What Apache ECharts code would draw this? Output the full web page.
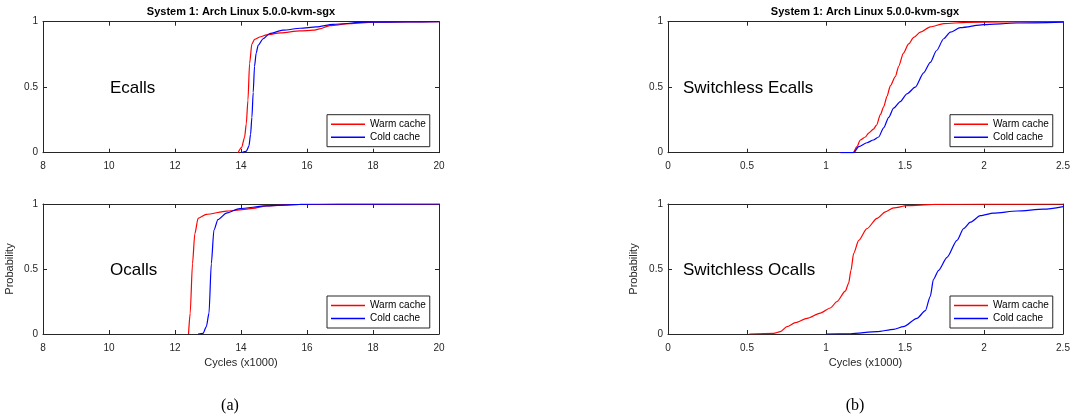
<!DOCTYPE html>
<html>
<head>
<meta charset="utf-8">
<script src="https://cdn.jsdelivr.net/npm/echarts@6/dist/echarts.min.js"></script>
<style>
html,body{margin:0;padding:0;background:#fff;}
#c{width:1073px;height:419px;}
</style>
</head>
<body>
<div id="c"></div>
<script>
// ---- Data ----
const titleText = 'System 1: Arch Linux 5.0.0-kvm-sgx';
const seriesNames = ['Warm cache', 'Cold cache'];
const panelLabels = ['Ecalls', 'Ocalls', 'Switchless Ecalls', 'Switchless Ocalls'];
const yTicks = [0, 0.5, 1];
const leftXTicks = [8, 10, 12, 14, 16, 18, 20];
const rightXTicks = [0, 0.5, 1, 1.5, 2, 2.5];

const ecallsWarm = [[13.91,0],[14.02,0.04],[14.11,0.12],[14.16,0.22],[14.21,0.40],[14.26,0.68],[14.33,0.83],[14.41,0.865],[14.6,0.885],[14.77,0.90],[15.2,0.915],[15.78,0.93],[16.2,0.935],[16.38,0.945],[16.69,0.97],[17.3,0.985],[18,0.996],[19,0.999],[20,1]];
const ecallsCold = [[14.01,0],[14.16,0.01],[14.24,0.05],[14.29,0.14],[14.33,0.27],[14.37,0.46],[14.41,0.66],[14.46,0.76],[14.52,0.82],[14.67,0.87],[14.87,0.91],[15.27,0.935],[15.8,0.95],[16.28,0.96],[16.79,0.98],[17.8,0.996],[19,0.999],[20,1]];
const ocallsWarm = [[12.41,0],[12.46,0.16],[12.53,0.54],[12.6,0.77],[12.70,0.89],[12.95,0.92],[13.56,0.945],[13.96,0.955],[14.36,0.967],[14.77,0.985],[15.78,0.997],[17,0.999],[20,1]];
const ocallsCold = [[12.70,0],[12.85,0.005],[12.95,0.056],[13.03,0.16],[13.1,0.54],[13.18,0.8],[13.3,0.88],[13.56,0.93],[13.96,0.965],[14.77,0.985],[15.78,0.997],[17,0.999],[20,1]];
const swEcallsWarm = [[1.086,0],[1.171,0],[1.196,0.046],[1.217,0.097],[1.249,0.12],[1.27,0.15],[1.30,0.18],[1.32,0.21],[1.344,0.29],[1.365,0.35],[1.386,0.43],[1.407,0.51],[1.439,0.58],[1.46,0.66],[1.49,0.76],[1.523,0.83],[1.555,0.88],[1.597,0.92],[1.66,0.96],[1.745,0.985],[1.89,0.995],[2.1,0.998],[2.5,1]];
const swEcallsCold = [[1.09,0],[1.175,0],[1.207,0.046],[1.259,0.076],[1.30,0.097],[1.333,0.12],[1.365,0.19],[1.397,0.27],[1.428,0.34],[1.47,0.39],[1.513,0.45],[1.565,0.50],[1.618,0.61],[1.66,0.69],[1.70,0.78],[1.745,0.87],[1.787,0.92],[1.85,0.955],[1.998,0.978],[2.209,0.99],[2.5,0.997]];
const swOcallsWarm = [[0.515,0],[0.669,0.005],[0.711,0.018],[0.753,0.056],[0.806,0.087],[0.88,0.12],[0.964,0.16],[1.027,0.20],[1.07,0.25],[1.122,0.33],[1.143,0.39],[1.158,0.49],[1.175,0.62],[1.207,0.72],[1.259,0.81],[1.323,0.89],[1.376,0.94],[1.428,0.97],[1.513,0.987],[1.68,0.997],[2.0,0.999],[2.5,1]];
const swOcallsCold = [[1.0,0],[1.154,0.002],[1.323,0.018],[1.428,0.036],[1.49,0.056],[1.576,0.12],[1.629,0.18],[1.66,0.29],[1.68,0.42],[1.713,0.49],[1.766,0.59],[1.829,0.72],[1.871,0.81],[1.914,0.86],[1.977,0.91],[2.06,0.93],[2.209,0.946],[2.378,0.96],[2.5,0.98]];

const panelData = [
  [ecallsWarm, ecallsCold],
  [ocallsWarm, ocallsCold],
  [swEcallsWarm, swEcallsCold],
  [swOcallsWarm, swOcallsCold]
];

// ---- Layout ----
const axisColor = '#262626';
const font = 'Liberation Sans, Arial, Helvetica, sans-serif';
const grids = [
  {left: 43, top: 21.7, width: 396, height: 131},
  {left: 43, top: 204, width: 396, height: 130},
  {left: 668, top: 21.7, width: 395, height: 131},
  {left: 668, top: 204, width: 395, height: 130}
];
const xRanges = [
  {min: leftXTicks[0], max: leftXTicks[leftXTicks.length-1], interval: leftXTicks[1]-leftXTicks[0]},
  {min: leftXTicks[0], max: leftXTicks[leftXTicks.length-1], interval: leftXTicks[1]-leftXTicks[0]},
  {min: rightXTicks[0], max: rightXTicks[rightXTicks.length-1], interval: rightXTicks[1]-rightXTicks[0]},
  {min: rightXTicks[0], max: rightXTicks[rightXTicks.length-1], interval: rightXTicks[1]-rightXTicks[0]}
];
const colors = ['#ff0000', '#0000ff'];

const xAxis = [], yAxis = [], series = [], legend = [], graphic = [];
grids.forEach((g, i) => {
  const xr = xRanges[i];
  const isBottom = i === 1 || i === 3;
  const base = {
    gridIndex: i, type: 'value', min: xr.min, max: xr.max, interval: xr.interval,
    axisLine: {show: true, onZero: false, lineStyle: {color: axisColor, width: 1}},
    axisTick: {show: true, inside: true, length: 4, lineStyle: {color: axisColor}},
    splitLine: {show: false}
  };
  xAxis.push(Object.assign({}, base, {
    position: 'bottom',
    axisLabel: {show: true, color: axisColor, fontSize: 10, fontFamily: font, margin: 9},
    name: isBottom ? 'Cycles (x1000)' : '',
    nameLocation: 'middle', nameGap: 23,
    nameTextStyle: {color: axisColor, fontSize: 11, fontFamily: font}
  }));
  xAxis.push(Object.assign({}, base, {position: 'top', axisLabel: {show: false}}));
  const ybase = {
    gridIndex: i, type: 'value', min: yTicks[0], max: yTicks[yTicks.length-1], interval: yTicks[1]-yTicks[0],
    axisLine: {show: true, onZero: false, lineStyle: {color: axisColor, width: 1}},
    axisTick: {show: true, inside: true, length: 4, lineStyle: {color: axisColor}},
    splitLine: {show: false}
  };
  yAxis.push(Object.assign({}, ybase, {
    position: 'left',
    axisLabel: {show: true, color: axisColor, fontSize: 10, fontFamily: font, margin: 5},
    name: isBottom ? 'Probability' : '',
    nameLocation: 'middle', nameGap: i === 1 ? 28 : 29,
    nameTextStyle: {color: axisColor, fontSize: 11, fontFamily: font}
  }));
  yAxis.push(Object.assign({}, ybase, {position: 'right', axisLabel: {show: false}}));

  panelData[i].forEach((d, k) => {
    series.push({
      name: seriesNames[k], type: 'line', xAxisIndex: i*2, yAxisIndex: i*2,
      data: d, showSymbol: false, symbol: 'none', smooth: 0.25, smoothMonotone: 'x',
      lineStyle: {color: colors[k], width: 1.2}, itemStyle: {color: colors[k]},
      clip: true, z: 2 + k
    });
  });

  legend.push({
    data: seriesNames, orient: 'vertical',
    left: g.left + (i < 2 ? 284 : 282), top: g.top + g.height - 38,
    padding: [3, 4, 3, 4], itemGap: 0, itemWidth: 34, itemHeight: 1.5, icon: 'rect',
    backgroundColor: '#fff', borderColor: axisColor, borderWidth: 1, borderRadius: 0,
    textStyle: {color: '#000', fontSize: 10, fontFamily: font, lineHeight: 13},
    selectedMode: false
  });
});

// panel labels
const labelPos = [[110, 88], [110, 270], [683, 88], [683, 270]];
panelLabels.forEach((t, i) => {
  graphic.push({
    type: 'text', x: labelPos[i][0], y: labelPos[i][1],
    style: {text: t, fill: '#000', font: '17px ' + font, textVerticalAlign: 'middle'},
    silent: true
  });
});

// titles
[241, 865].forEach(cx => {
  graphic.push({
    type: 'text', x: cx, y: 12,
    style: {text: titleText, fill: '#000', font: 'bold 11px ' + font, textAlign: 'center', textVerticalAlign: 'middle'},
    silent: true
  });
});
// sub-figure captions
[['(a)', 230], ['(b)', 855]].forEach(([t, cx]) => {
  graphic.push({
    type: 'text', x: cx, y: 406,
    style: {text: t, fill: '#000', font: '16px Liberation Serif, Times New Roman, serif', textAlign: 'center', textVerticalAlign: 'middle'},
    silent: true
  });
});

const chart = echarts.init(document.getElementById('c'), null, {renderer: 'canvas'});
chart.setOption({
  animation: false,
  backgroundColor: '#fff',
  grid: grids.map(g => Object.assign({containLabel: false}, g)),
  xAxis, yAxis, series, legend, graphic
});
</script>
</body>
</html>
